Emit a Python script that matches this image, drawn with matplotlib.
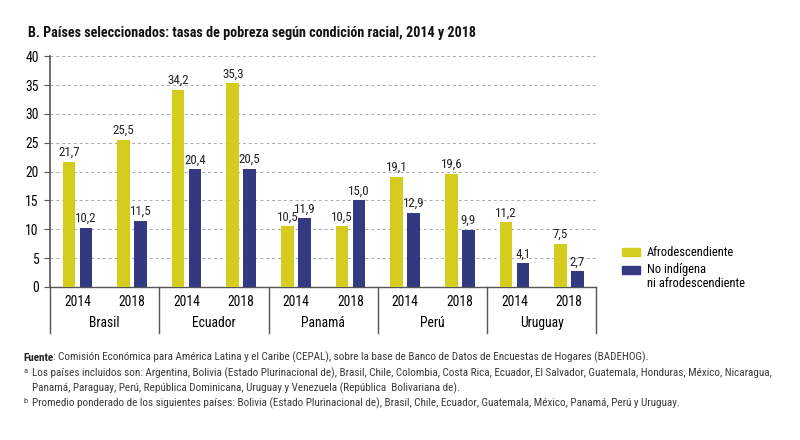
import matplotlib
matplotlib.use("Agg")
import matplotlib.pyplot as plt
from matplotlib import font_manager
from matplotlib.patches import Rectangle
import numpy as np

# pick a condensed family if one is installed
installed = {f.name for f in font_manager.fontManager.ttflist}
narrow = next((n for n in ["Roboto Condensed", "Liberation Sans Narrow", "Archivo Narrow",
                           "PT Sans Narrow", "Fira Sans Condensed", "IBM Plex Sans Condensed",
                           "Asap Condensed", "Open Sans Condensed"] if n in installed),
              "DejaVu Sans")
plt.rcParams["font.family"] = [narrow, "DejaVu Sans"]

countries = ["Brasil", "Ecuador", "Panamá", "Perú", "Uruguay"]
years = ["2014", "2018"]
series_names = ["Afrodescendiente", "No indígena\nni afrodescendiente"]
afro = [21.7, 25.5, 34.2, 35.3, 10.5, 10.5, 19.1, 19.6, 11.2, 7.5]
no_indigena = [10.2, 11.5, 20.4, 20.5, 11.9, 15.0, 12.9, 9.9, 4.1, 2.7]

yellow = "#d5cd1e"
blue = "#343a82"
axis_gray = "#555555"
note_gray = "#3a3a3a"

fig = plt.figure(figsize=(8, 4.4), dpi=100)
ax = fig.add_axes([0.0625, 0.348, 0.683, 0.524])

x = np.arange(len(afro))
w = 0.23
off = 0.155
ax.bar(x - off, afro, w, color=yellow, zorder=3)
ax.bar(x + off, no_indigena, w, color=blue, zorder=3)

for xi, v in zip(x, afro):
    ax.text(xi - off, v + 0.5, f"{v:.1f}".replace(".", ","), ha="center",
            va="bottom", fontsize=9.3, color="#222222")
for xi, v in zip(x, no_indigena):
    ax.text(xi + off, v + 0.5, f"{v:.1f}".replace(".", ","), ha="center",
            va="bottom", fontsize=9.3, color="#222222")

ax.set_xlim(-0.5, len(afro) - 0.5)
ax.set_ylim(0, 40)
ax.set_yticks(range(0, 41, 5))
ax.yaxis.grid(True, linestyle=(0, (3, 3)), color="#aaaaaa", linewidth=0.7, zorder=0)
ax.tick_params(axis="y", length=4, color=axis_gray, labelsize=9.8, pad=4)
ax.tick_params(axis="x", length=0, labelsize=9.8, pad=6)
ax.set_xticks(x)
ax.set_xticklabels(years * len(countries))

for s in ["top", "right"]:
    ax.spines[s].set_visible(False)
ax.spines["left"].set_color(axis_gray)
ax.spines["left"].set_linewidth(1.2)
ax.spines["bottom"].set_color(axis_gray)
ax.spines["bottom"].set_linewidth(1.0)

# group separators and country names below the axis
trans = ax.get_xaxis_transform()
for i in range(len(countries) + 1):
    ax.plot([2 * i - 0.5, 2 * i - 0.5], [0, -0.199], transform=trans,
            color=axis_gray, linewidth=1.0, clip_on=False)
for i, c in enumerate(countries):
    ax.text(2 * i + 0.5, -0.157, c, transform=trans, ha="center", va="center",
            fontsize=9.8)

# legend drawn by hand so the blue swatch sits beside the first line
lg_fs = 9
fig.add_artist(Rectangle((622 / 800, 1 - 256 / 440), 18 / 800, 8 / 440,
                         transform=fig.transFigure, color=yellow))
fig.add_artist(Rectangle((622 / 800, 1 - 274 / 440), 18 / 800, 8 / 440,
                         transform=fig.transFigure, color=blue))
fig.text(647 / 800, 1 - 252 / 440, series_names[0], va="center", fontsize=lg_fs)
fig.text(647 / 800, 1 - 263.5 / 440, series_names[1], va="top", fontsize=lg_fs,
         linespacing=1.05)

fig.text(0.035, 0.916, "B. Países seleccionados: tasas de pobreza según condición racial, 2014 y 2018",
         fontsize=10.2, fontweight="bold", color="#111111")

fs = 8.0
src = fig.text(0.029, 0.180, "Fuente", fontsize=fs, fontweight="bold", color="#222222")
ax.annotate(": Comisión Económica para América Latina y el Caribe (CEPAL), sobre la base "
            "de Banco de Datos de Encuestas de Hogares (BADEHOG).",
            xy=(1, 0), xycoords=src, va="bottom", ha="left", fontsize=fs, color=note_gray)
fig.text(0.029, 0.153, "a", fontsize=6, color=note_gray)
fig.text(0.040, 0.1455, "Los países incluidos son: Argentina, Bolivia (Estado Plurinacional de), Brasil, "
         "Chile, Colombia, Costa Rica, Ecuador, El Salvador, Guatemala, Honduras, México, Nicaragua,",
         fontsize=fs, color=note_gray)
fig.text(0.040, 0.1114, "Panamá, Paraguay, Perú, República Dominicana, Uruguay y Venezuela "
         "(República  Bolivariana de).", fontsize=fs, color=note_gray)
fig.text(0.029, 0.085, "b", fontsize=6, color=note_gray)
fig.text(0.040, 0.0773, "Promedio ponderado de los siguientes países: Bolivia (Estado Plurinacional de), "
         "Brasil, Chile, Ecuador, Guatemala, México, Panamá, Perú y Uruguay.",
         fontsize=fs, color=note_gray)

fig.savefig("out.png", dpi=100, facecolor="white")
